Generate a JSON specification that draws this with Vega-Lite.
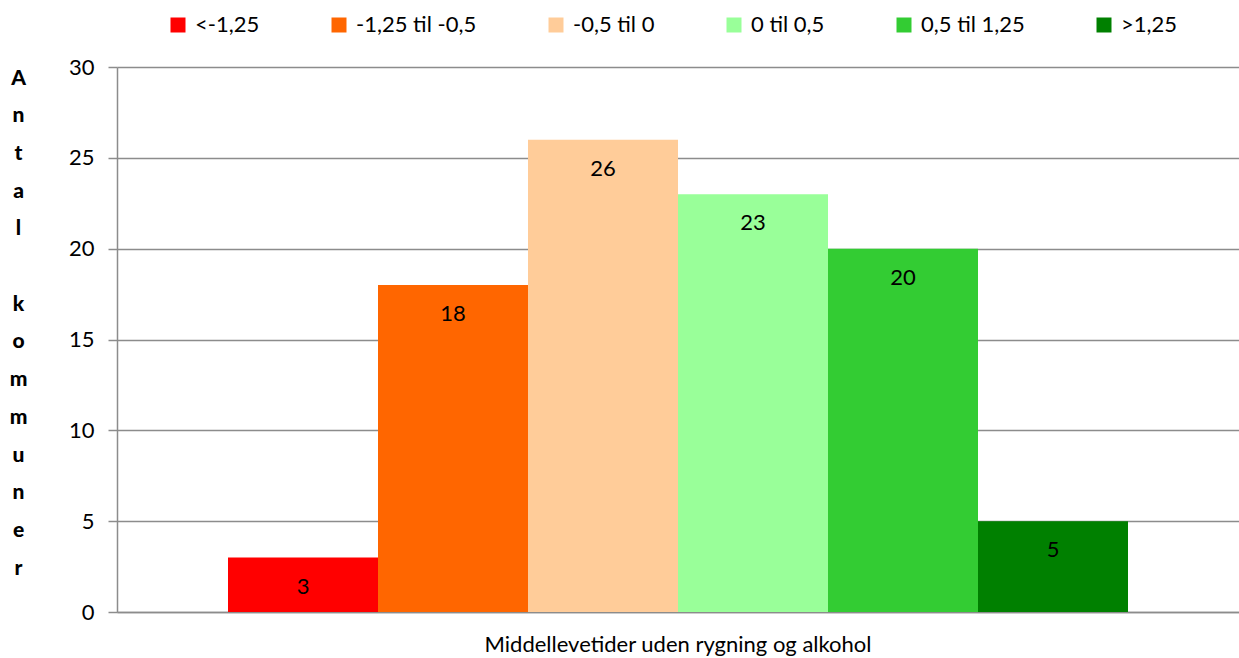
{
  "$schema": "https://vega.github.io/schema/vega-lite/v6.json",
  "width": 1122,
  "height": 545,
  "autosize": {"type": "none"},
  "padding": {"left": 117, "top": 67, "right": 0, "bottom": 46},
  "background": "white",
  "config": {
    "font": "Lato",
    "view": {"stroke": null}
  },
  "data": {
    "values": [
      {"kategori": "Middellevetider uden rygning og alkohol", "klasse": "<-1,25", "antal": 3},
      {"kategori": "Middellevetider uden rygning og alkohol", "klasse": "-1,25 til -0,5", "antal": 18},
      {"kategori": "Middellevetider uden rygning og alkohol", "klasse": "-0,5 til 0", "antal": 26},
      {"kategori": "Middellevetider uden rygning og alkohol", "klasse": "0 til 0,5", "antal": 23},
      {"kategori": "Middellevetider uden rygning og alkohol", "klasse": "0,5 til 1,25", "antal": 20},
      {"kategori": "Middellevetider uden rygning og alkohol", "klasse": ">1,25", "antal": 5}
    ]
  },
  "encoding": {
    "x": {
      "field": "kategori",
      "type": "nominal",
      "scale": {"paddingInner": 0, "paddingOuter": 0},
      "axis": {
        "title": null,
        "labelAngle": 0,
        "labelLimit": 0,
        "ticks": false,
        "labelFontSize": 22,
        "labelColor": "black",
        "labelPadding": 22,
        "domainColor": "#8c8c8c",
        "domainWidth": 1.5
      }
    },
    "xOffset": {
      "field": "klasse",
      "type": "nominal",
      "sort": ["<-1,25", "-1,25 til -0,5", "-0,5 til 0", "0 til 0,5", "0,5 til 1,25", ">1,25"],
      "scale": {"paddingInner": 0, "paddingOuter": 0.74}
    },
    "y": {
      "field": "antal",
      "type": "quantitative",
      "scale": {"domain": [0, 30]},
      "axis": {
        "values": [0, 5, 10, 15, 20, 25, 30],
        "title": ["A", "n", "t", "a", "l", "\u2800", "k", "o", "m", "m", "u", "n", "e", "r"],
        "titleAngle": 0,
        "titleFontWeight": 900,
        "titleFontSize": 21,
        "titleLineHeight": 37.7,
        "titleX": -99,
        "titleY": 17,
        "titleAlign": "center",
        "titleBaseline": "alphabetic",
        "titleColor": "black",
        "labelFontSize": 22,
        "labelColor": "black",
        "labelPadding": 14,
        "tickSize": 9,
        "tickColor": "#8c8c8c",
        "tickWidth": 1.5,
        "domainColor": "#8c8c8c",
        "domainWidth": 1.5,
        "gridColor": "#8c8c8c",
        "gridWidth": 1.5
      }
    }
  },
  "layer": [
    {
      "mark": {"type": "bar"},
      "encoding": {
        "color": {
          "field": "klasse",
          "type": "nominal",
          "sort": ["<-1,25", "-1,25 til -0,5", "-0,5 til 0", "0 til 0,5", "0,5 til 1,25", ">1,25"],
          "scale": {
            "domain": ["<-1,25", "-1,25 til -0,5", "-0,5 til 0", "0 til 0,5", "0,5 til 1,25", ">1,25"],
            "range": ["#FF0000", "#FF6600", "#FFCC99", "#99FF99", "#33CC33", "#008000"]
          },
          "legend": {
            "title": null,
            "orient": "none",
            "direction": "horizontal",
            "legendX": 50,
            "legendY": -53,
            "symbolType": "square",
            "symbolSize": 225,
            "symbolStrokeWidth": 0,
            "labelFontSize": 22,
            "labelColor": "black",
            "labelOffset": 6,
            "columnPadding": 68
          }
        }
      }
    },
    {
      "mark": {"type": "text", "baseline": "middle", "dy": 29, "fontSize": 22, "color": "black"},
      "encoding": {
        "text": {"field": "antal", "type": "quantitative"}
      }
    }
  ]
}
